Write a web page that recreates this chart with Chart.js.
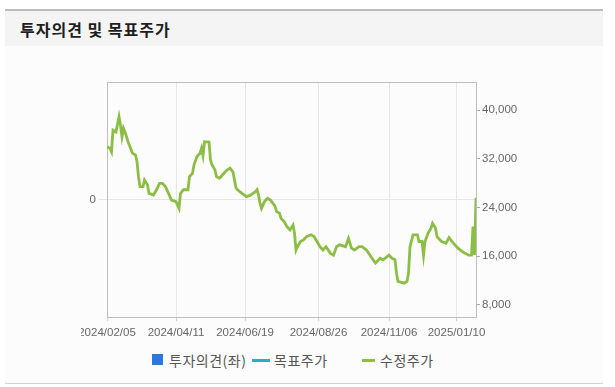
<!DOCTYPE html>
<html>
<head>
<meta charset="utf-8">
<script src="https://cdn.jsdelivr.net/npm/chart.js@4.4.1/dist/chart.umd.min.js"></script>
<style>
  html, body { margin: 0; padding: 0; background: #ffffff; }
  body { width: 615px; height: 387px; position: relative; overflow: hidden; font-family: "Noto Sans CJK KR", "Noto Sans", sans-serif; }
  #topline { position: absolute; left: 5px; top: 9px; width: 598px; height: 2px; background: #bcbcbc; }
  #titlebar { position: absolute; left: 5px; top: 11px; width: 598px; height: 35px; background: #f4f4f4; }
  #title { position: absolute; left: 20px; top: 18px; font-size: 16px; letter-spacing: 1px; font-weight: bold; color: #1e1e1e; line-height: 22px; white-space: nowrap; }
  #panel { position: absolute; left: 5px; top: 46px; width: 598px; height: 337px; background: #fcfcfc; }
  #bottomline { position: absolute; left: 5px; top: 383px; width: 598px; height: 1px; background: #d2d2d2; }
  #wrap { position: absolute; left: 81px; top: 60px; width: 534px; height: 290px; overflow: hidden; }
  #c { position: absolute; left: -41px; top: 0; }
  #legend { position: absolute; top: 350px; left: 0; width: 615px; height: 20px; font-size: 14px; letter-spacing: 0.5px; color: #555; }
  .li { position: absolute; top: 0; line-height: 20px; white-space: nowrap; }
  .sw { position: absolute; }
</style>
</head>
<body>
<div id="topline"></div>
<div id="titlebar"></div>
<div id="title">투자의견 및 목표주가</div>
<div id="panel"></div>
<div id="bottomline"></div>
<div id="wrap"><canvas id="c" width="520" height="285"></canvas></div>
<div id="legend"></div>
<script>
// ---- data ----
const seriesNames = ["투자의견(좌)", "목표주가", "수정주가"];
const seriesColors = ["#2a78e0", "#1db3c8", "#8cbd45"];

// x tick positions (trading-day index) and their labels
const xTickIdx = [0, 46, 92, 141, 188, 233];
const xTickLabels = ["2024/02/05", "2024/04/11", "2024/06/19", "2024/08/26", "2024/11/06", "2025/01/10"];

// right axis ticks
const rightTicks = [8000, 16000, 24000, 32000, 40000];

// trading-day index of each sampled point
const dayIdx = [
  0,2,3,4,6,8,9,10,11,12,
  14,17,19,20,21,22,24,25,27,28,
  31,33,35,37,39,41,43,46,48,49,
  51,54,55,57,58,60,62,63,64,65,
  68,69,70,72,73,75,78,80,82,84,
  86,87,90,93,96,99,100,101,102,103,
  105,107,109,112,113,115,116,118,120,122,
  124,125,126,127,129,131,133,136,138,140,
  142,144,146,149,151,153,155,159,161,163,
  165,168,170,173,176,179,182,184,188,190,
  192,193,194,198,200,201,202,204,207,208,
  210,211,212,214,216,217,219,220,223,226,
  228,231,234,237,239,241,243,244,245,246
];
// adjusted price (수정주가)
const adjPrice = [
  34000,33700,33150,36700,36400,38900,37500,35600,37000,36400,
  34800,32900,32600,31500,29050,27400,27400,28500,27700,26300,
  26050,26900,27950,27950,27400,26300,25200,24950,23850,26300,
  26900,26900,29050,29600,31000,32350,32900,33700,32500,34800,
  34750,31800,31000,30150,29050,28800,29600,30150,30450,29800,
  27200,26900,26300,25770,26050,26600,26900,26050,24700,23850,
  24950,25500,25200,24200,23350,23050,22200,21700,20850,20300,
  21100,19750,17000,17550,18400,18650,19200,19500,19200,18400,
  17550,17000,17550,16450,16150,17550,17850,17550,18900,17300,
  17000,17550,17550,17000,15900,14850,15650,15400,16150,15650,
  15400,13200,11850,11550,11850,13200,17550,19500,19500,18400,
  18400,16150,18400,19750,20600,21400,20600,19200,18400,18100,
  19050,18100,17300,16700,16450,16150,16150,20850,16200,25600
];
// opinion & target price: no data in the period
const opinion = [];
const targetPrice = [];

// ---- chart ----
const tickFont = { family: "'Liberation Sans', Arial, sans-serif", size: 11.5 };
const tickColor = "#666";
const gridColor = "#e6e6e6";
const borderColor = "#bdbdbd";

new Chart(document.getElementById("c"), {
  data: {
    datasets: [
      { type: "bar", label: seriesNames[0], data: opinion, backgroundColor: seriesColors[0], yAxisID: "y", xAxisID: "x" },
      { type: "line", label: seriesNames[1], data: targetPrice, borderColor: seriesColors[1], yAxisID: "y2", xAxisID: "x", pointRadius: 0 },
      { type: "line", label: seriesNames[2],
        data: dayIdx.map((d, i) => ({ x: d, y: adjPrice[i] })),
        borderColor: seriesColors[2], borderWidth: 2.8, pointRadius: 0, tension: 0,
        yAxisID: "y2", xAxisID: "x", borderJoinStyle: "miter" }
    ]
  },
  options: {
    responsive: false,
    devicePixelRatio: 1,
    animation: false,
    layout: { padding: { top: 22, left: 0, right: 0, bottom: 0 } },
    plugins: { legend: { display: false }, tooltip: { enabled: false } },
    scales: {
      x: {
        type: "linear", position: "bottom", min: 0, max: 246, offset: false,
        afterBuildTicks: s => { s.ticks = xTickIdx.map(v => ({ value: v })); },
        afterFit: s => { s.height = 28; },
        ticks: {
          autoSkip: false, maxRotation: 0, font: tickFont, color: tickColor, padding: 5,
          callback: v => { const k = xTickIdx.indexOf(v); return k >= 0 ? xTickLabels[k] : ""; }
        },
        grid: { offset: false, color: gridColor, tickLength: 4, tickColor: "#cfcfcf" },
        border: { color: borderColor }
      },
      xTop: {
        type: "linear", position: "top", min: 0, max: 1, offset: false,
        afterFit: s => { s.height = 0; },
        ticks: { display: false },
        grid: { display: false, drawTicks: false },
        border: { display: true, color: borderColor }
      },
      y: {
        type: "linear", position: "left", min: -1, max: 1,
        afterBuildTicks: s => { s.ticks = [{ value: 0 }]; },
        afterFit: s => { s.width = 67; },
        ticks: { font: tickFont, color: tickColor, padding: 3, callback: v => String(v) },
        grid: { color: gridColor, tickLength: 8, tickColor: gridColor },
        border: { color: borderColor }
      },
      y2: {
        type: "linear", position: "right", min: 6000, max: 44600,
        afterBuildTicks: s => { s.ticks = rightTicks.map(v => ({ value: v })); },
        afterFit: s => { s.width = 84; },
        ticks: { font: tickFont, color: tickColor, padding: 2, callback: v => v.toLocaleString("en-US") },
        grid: { drawOnChartArea: false, tickLength: 4, tickColor: "#aaa" },
        border: { color: borderColor }
      }
    }
  }
});

// ---- legend (HTML) ----
const lg = document.getElementById("legend");
const items = [
  { sw: { left: 152, top: 4, w: 11, h: 11 }, textLeft: 169 },
  { sw: { left: 252, top: 9, w: 18, h: 3 }, textLeft: 274 },
  { sw: { left: 362, top: 9, w: 13, h: 3 }, textLeft: 380 }
];
items.forEach((it, i) => {
  const s = document.createElement("div");
  s.className = "sw";
  s.style.left = it.sw.left + "px"; s.style.top = it.sw.top + "px";
  s.style.width = it.sw.w + "px"; s.style.height = it.sw.h + "px";
  s.style.background = seriesColors[i];
  lg.appendChild(s);
  const t = document.createElement("div");
  t.className = "li";
  t.style.left = it.textLeft + "px";
  t.textContent = seriesNames[i];
  lg.appendChild(t);
});
</script>
</body>
</html>
